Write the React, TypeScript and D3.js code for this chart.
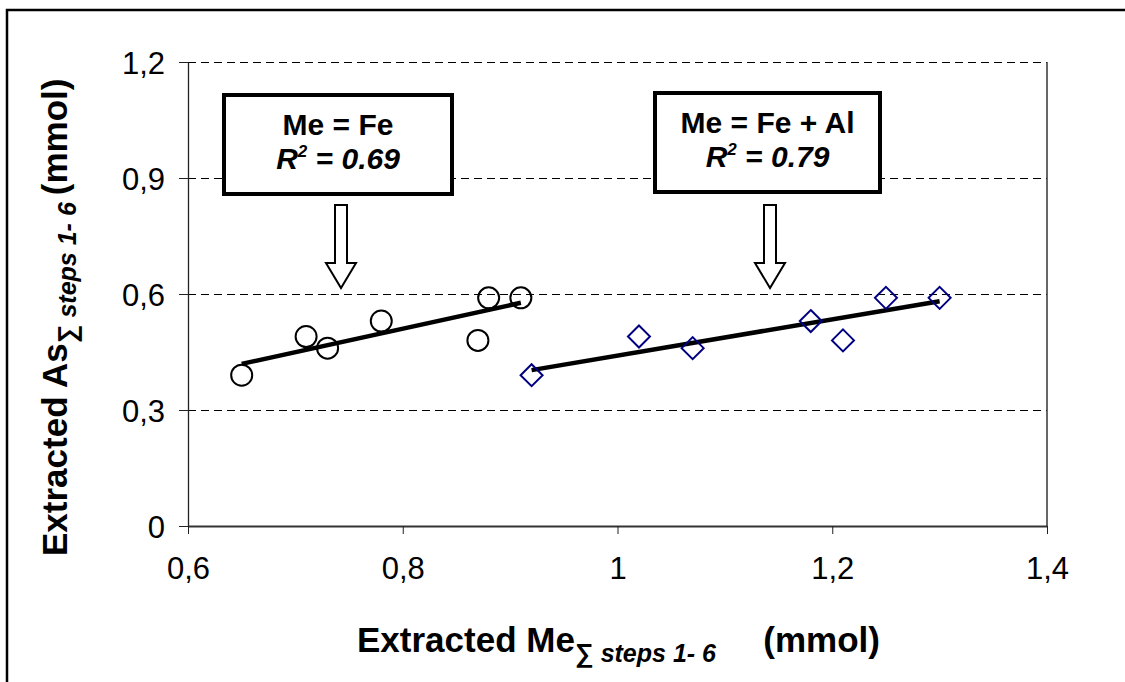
import { useEffect, useRef } from "react";
import * as d3 from "d3";

// extracted metal (Fe only / Fe + Al) vs extracted As, mmol
const feMe = [0.65, 0.71, 0.73, 0.78, 0.87, 0.88, 0.91];
const feAlMe = [0.92, 1.02, 1.07, 1.18, 1.21, 1.25, 1.3];
const extractedAs = [0.39, 0.49, 0.46, 0.53, 0.48, 0.59, 0.59];

const xTicks = [0.6, 0.8, 1.0, 1.2, 1.4];
const yTicks = [0, 0.3, 0.6, 0.9, 1.2];
const gridTicks = [0.3, 0.6, 0.9, 1.2];

const boxTitles = ["Me = Fe", "Me = Fe + Al"];
const boxR2 = ["0.69", "0.79"];

const FONT = "'Liberation Sans', Arial, sans-serif";

// least squares line over the x range of the points
const fitLine = (xs: number[], ys: number[]) => {
  const mx = d3.mean(xs) || 0;
  const my = d3.mean(ys) || 0;
  const sxy = d3.sum(xs, (x, i) => (x - mx) * (ys[i] - my));
  const sxx = d3.sum(xs, (x) => (x - mx) ** 2);
  const b = sxy / sxx;
  const a = my - b * mx;
  const x0 = d3.min(xs) || 0;
  const x1 = d3.max(xs) || 0;
  return [
    [x0, a + b * x0],
    [x1, a + b * x1],
  ];
};

const App = () => {
  const chartRef = useRef<SVGSVGElement | null>(null);

  useEffect(() => {
    if (!chartRef.current) return;

    const left = 188;
    const right = 1047;
    const top = 62;
    const bottom = 526;

    const svg = d3.select(chartRef.current).html("");

    const x = d3.scaleLinear().domain([0.6, 1.4]).range([left, right]);
    const y = d3.scaleLinear().domain([0, 1.2]).range([bottom, top]);
    const fmt = d3
      .formatLocale({ decimal: ",", thousands: ".", grouping: [3], currency: ["", ""] })
      .format(".1~f");

    // outer frame (runs off the picture on the right and bottom)
    svg.append("rect")
      .attr("x", 7)
      .attr("y", 10)
      .attr("width", 1140)
      .attr("height", 700)
      .attr("fill", "white")
      .attr("stroke", "black")
      .attr("stroke-width", 2.5);

    // dashed gridlines
    svg.append("g")
      .selectAll("line")
      .data(gridTicks)
      .join("line")
      .attr("x1", left)
      .attr("x2", right)
      .attr("y1", (d) => Math.round(y(d)) + 0.5)
      .attr("y2", (d) => Math.round(y(d)) + 0.5)
      .attr("stroke", "black")
      .attr("stroke-width", 1)
      .attr("stroke-dasharray", "8,5");

    // right edge of plot area
    svg.append("line")
      .attr("x1", right)
      .attr("x2", right)
      .attr("y1", top)
      .attr("y2", bottom)
      .attr("stroke", "#333")
      .attr("stroke-width", 1.5);

    // Axes
    const yAxis = svg.append("g")
      .attr("transform", `translate(${left},0)`)
      .call(d3.axisLeft(y).tickValues(yTicks).tickSize(9).tickSizeOuter(0).tickPadding(14).tickFormat((d) => fmt(d as number)));
    const xAxis = svg.append("g")
      .attr("transform", `translate(0,${bottom})`)
      .call(d3.axisBottom(x).tickValues(xTicks).tickSize(8).tickSizeOuter(0).tickPadding(23).tickFormat((d) => fmt(d as number)));

    [yAxis, xAxis].forEach((g) => {
      g.selectAll("text")
        .style("font-family", FONT)
        .style("font-size", "31px")
        .attr("fill", "black");
      g.selectAll("line").attr("stroke", "#222");
    });
    yAxis.select(".domain").attr("stroke", "#222").attr("stroke-width", 1.3);
    xAxis.select(".domain").attr("stroke", "#333").attr("stroke-width", 2.2);
    yAxis.selectAll("text").attr("dy", "0.36em");
    xAxis.selectAll("text").attr("dy", "0.72em");

    // trend lines
    const line = d3.line<number[]>().x((d) => x(d[0])).y((d) => y(d[1]));
    [fitLine(feMe, extractedAs), fitLine(feAlMe, extractedAs)].forEach((pts) => {
      svg.append("path")
        .attr("d", line(pts) as string)
        .attr("fill", "none")
        .attr("stroke", "black")
        .attr("stroke-width", 4.5);
    });

    // Fe: open circles
    svg.append("g")
      .selectAll("circle")
      .data(feMe)
      .join("circle")
      .attr("cx", (d) => x(d))
      .attr("cy", (_, i) => y(extractedAs[i]))
      .attr("r", 10.5)
      .attr("fill", "none")
      .attr("stroke", "black")
      .attr("stroke-width", 2);

    // Fe + Al: open navy diamonds
    svg.append("g")
      .selectAll("path")
      .data(feAlMe)
      .join("path")
      .attr("transform", (d, i) => `translate(${x(d)},${y(extractedAs[i])})`)
      .attr("d", "M0,-11L11,0L0,11L-11,0Z")
      .attr("fill", "none")
      .attr("stroke", "#000080")
      .attr("stroke-width", 2);

    // annotation boxes + hollow arrows
    const boxes = [
      { x0: 224, x1: 452, y0: 95, y1: 194, ax: 341 },
      { x0: 655, x1: 880, y0: 93, y1: 192, ax: 770 },
    ];
    boxes.forEach((b, i) => {
      svg.append("rect")
        .attr("x", b.x0)
        .attr("y", b.y0)
        .attr("width", b.x1 - b.x0)
        .attr("height", b.y1 - b.y0)
        .attr("fill", "white")
        .attr("stroke", "black")
        .attr("stroke-width", 4);

      const cx = (b.x0 + b.x1) / 2;
      svg.append("text")
        .attr("x", cx)
        .attr("y", b.y0 + 40)
        .attr("text-anchor", "middle")
        .style("font-family", FONT)
        .style("font-size", "30px")
        .style("font-weight", "bold")
        .text(boxTitles[i]);

      const r2 = svg.append("text")
        .attr("x", cx)
        .attr("y", b.y0 + 74)
        .attr("text-anchor", "middle")
        .style("font-family", FONT)
        .style("font-size", "30px")
        .style("font-weight", "bold")
        .style("font-style", "italic");
      r2.append("tspan").text("R");
      r2.append("tspan").attr("dy", -12).style("font-size", "17px").text("2");
      r2.append("tspan").attr("dy", 12).text(` = ${boxR2[i]}`);

      const s = 6;
      const h = 15;
      const yTop = 205;
      const yBase = 263;
      const yTip = 288;
      svg.append("path")
        .attr(
          "d",
          `M${b.ax - s},${yTop}L${b.ax + s},${yTop}L${b.ax + s},${yBase}L${b.ax + h},${yBase}` +
            `L${b.ax},${yTip}L${b.ax - h},${yBase}L${b.ax - s},${yBase}Z`
        )
        .attr("fill", "white")
        .attr("stroke", "black")
        .attr("stroke-width", 2);
    });

    // axis titles
    const xt = svg.append("text")
      .attr("x", 357)
      .attr("y", 652)
      .style("font-family", FONT)
      .style("font-size", "35px")
      .style("font-weight", "bold");
    xt.append("tspan").text("Extracted Me");
    xt.append("tspan").attr("dy", 10).style("font-size", "26px").text("\u2211 ");
    xt.append("tspan").style("font-size", "25px").style("font-style", "italic").text("steps 1- 6");
    svg.append("text")
      .attr("x", 880)
      .attr("y", 652)
      .attr("text-anchor", "end")
      .style("font-family", FONT)
      .style("font-size", "35px")
      .style("font-weight", "bold")
      .text("(mmol)");

    const yt = svg.append("text")
      .attr("transform", "translate(67,556) rotate(-90)")
      .style("font-family", FONT)
      .style("font-size", "35px")
      .style("font-weight", "bold");
    yt.append("tspan").text("Extracted As");
    yt.append("tspan").attr("dy", 9).style("font-size", "26px").text("\u2211 ");
    yt.append("tspan").style("font-size", "25px").style("font-style", "italic").text("steps 1- 6 ");
    yt.append("tspan").attr("dy", -9).text("(mmol)");
  }, []);

  return (
    <svg
      ref={chartRef}
      width={1125}
      height={682}
      style={{ position: "absolute", left: 0, top: 0, background: "white" }}
    ></svg>
  );
};

export default App;
